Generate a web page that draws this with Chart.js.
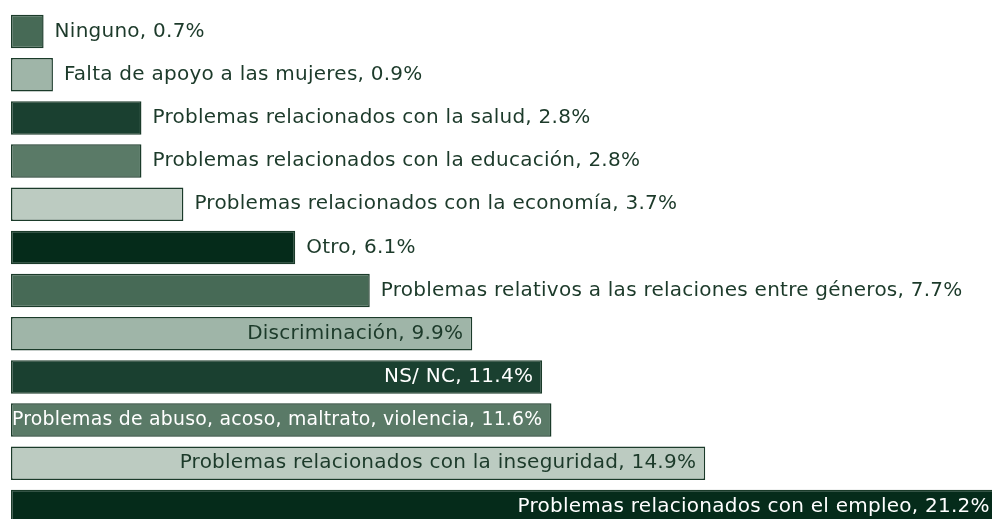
<!DOCTYPE html>
<html>
<head>
<meta charset="utf-8">
<script src="https://cdn.jsdelivr.net/npm/chart.js@4"></script>
<style>
  html, body { margin: 0; padding: 0; background: #ffffff; overflow: hidden; }
  #wrap { position: absolute; left: 0; top: 0; width: 1040px; height: 530px; }
</style>
</head>
<body>
<div id="wrap"><canvas id="c" width="1040" height="530"></canvas></div>
<script>
const categories = [
  "Ninguno",
  "Falta de apoyo a las mujeres",
  "Problemas relacionados con la salud",
  "Problemas relacionados con la educación",
  "Problemas relacionados con la economía",
  "Otro",
  "Problemas relativos a las relaciones entre géneros",
  "Discriminación",
  "NS/ NC",
  "Problemas de abuso, acoso, maltrato, violencia",
  "Problemas relacionados con la inseguridad",
  "Problemas relacionados con el empleo"
];
const values = [0.7, 0.9, 2.8, 2.8, 3.7, 6.1, 7.7, 9.9, 11.4, 11.6, 14.9, 21.2];
const palette = ["#476a56", "#9fb5a8", "#1a4030", "#5a7a67", "#bccbc1", "#052b1a"];
const barColors = categories.map((_, i) => palette[i % palette.length]);
const insideThreshold = 9;

const FONT = '20px "DejaVu Sans"';
const DARK_TEXT = '#1c3a2a';

function isLight(hex) {
  const r = parseInt(hex.slice(1, 3), 16), g = parseInt(hex.slice(3, 5), 16), b = parseInt(hex.slice(5, 7), 16);
  return (0.299 * r + 0.587 * g + 0.114 * b) > 150;
}

const labelPlugin = {
  id: 'barLabels',
  afterDatasetsDraw(chart) {
    const ctx = chart.ctx;
    const meta = chart.getDatasetMeta(0);
    ctx.save();
    ctx.font = FONT;
    if ('letterSpacing' in ctx) ctx.letterSpacing = '0.25px';
    ctx.textBaseline = 'middle';
    meta.data.forEach((bar, i) => {
      const v = values[i];
      const txt = categories[i] + ', ' + v.toFixed(1) + '%';
      if (v >= insideThreshold) {
        ctx.textAlign = 'right';
        ctx.fillStyle = isLight(barColors[i]) ? DARK_TEXT : '#ffffff';
        const maxW = (bar.x - bar.base) - 10;
        ctx.fillText(txt, bar.x - 9, bar.y, maxW);
      } else {
        ctx.textAlign = 'left';
        ctx.fillStyle = DARK_TEXT;
        ctx.fillText(txt, bar.x + 11, bar.y);
      }
    });
    ctx.restore();
  }
};

function draw() {
  new Chart(document.getElementById('c'), {
    type: 'bar',
    data: {
      labels: categories,
      datasets: [{
        data: values,
        backgroundColor: barColors,
        borderColor: '#1b3b2a',
        borderWidth: 1.5,
        borderSkipped: false,
        barPercentage: 0.776,
        categoryPercentage: 1
      }]
    },
    options: {
      indexAxis: 'y',
      responsive: false,
      animation: false,
      layout: { padding: { left: 11, right: 4, top: 10, bottom: 2 } },
      scales: {
        x: { display: false, min: 0, max: 22 },
        y: { display: false }
      },
      plugins: {
        legend: { display: false },
        tooltip: { enabled: false }
      }
    },
    plugins: [labelPlugin]
  });
}

if (document.fonts && document.fonts.load) {
  document.fonts.load(FONT).then(draw, draw);
} else {
  draw();
}
</script>
</body>
</html>
